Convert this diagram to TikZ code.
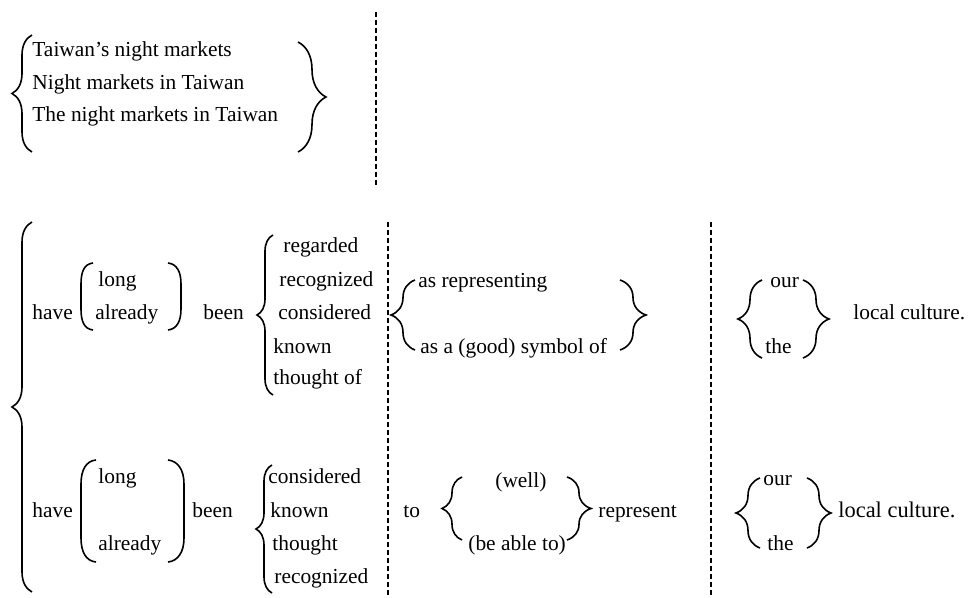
\documentclass[tikz,border=0pt]{standalone}
\usepackage{fontspec}
\setmainfont{Liberation Serif}
\usepackage{tikz}
\usetikzlibrary{decorations.pathreplacing}
\tikzset{
	word/.style={inner sep=0pt, anchor=west, text height=0.7em, text depth=0.2em, font=\fontsize{10.7}{13}\selectfont},
	curly/.style={decorate, line width=0.8pt, decoration={brace, amplitude=#1}},
	curly/.default=8pt,
	paren/.style={line width=0.8pt},
	divider/.style={line width=0.8pt, dash pattern=on 2.5pt off 1.5pt}
}
\begin{document}
\begin{tikzpicture}[x=0.5pt, y=-0.5pt]
		\useasboundingbox (0,0) rectangle (968,598);

		% subjects
		\node[word] (s1) at (32,52) {Taiwan's night markets};
		\node[word] (s2) at (32,85) {Night markets in Taiwan};
		\node[word] (s3) at (32,117) {The night markets in Taiwan};
		\draw[curly=10pt] (32,152) -- (32,35);
		\draw[curly=14pt] (298,42) -- (298,152);
		\draw[divider] (376,12) -- (376,187);

		% whole predicate
		\draw[curly=10pt] (32,592) -- (32,222);
		\draw[divider] (388,222) -- (388,598);
		\draw[divider] (711,222) -- (711,598);

		% first row
		\node[word] (have1) at (32,315) {have};
		\draw[paren] (93,263) .. controls (84,264) and (81,272) .. (81,284) -- (81,309) .. controls (81,321) and (84,329) .. (93,330);
		\node[word] (long1) at (98,282) {long};
		\node[word] (already1) at (95,315) {already};
		\draw[paren] (168,263) .. controls (177,264) and (181,272) .. (181,284) -- (181,309) .. controls (181,321) and (177,329) .. (168,330);
		\node[word] (been1) at (203,315) {been};
		\draw[curly=8pt] (273,395) -- (273,235);
		\node[word] (v11) at (283,248) {regarded};
		\node[word] (v12) at (279,282) {recognized};
		\node[word] (v13) at (278,315) {considered};
		\node[word] (v14) at (273,348) {known};
		\node[word] (v15) at (273,380) {thought of};
		\draw[curly=12pt] (415,350) -- (415,280);
		\node[word] (as1) at (418,283) {as representing};
		\node[word] (as2) at (420,348) {as a (good) symbol of};
		\draw[curly=13pt] (620,280) -- (620,350);
		\draw[curly=12pt] (762,358) -- (762,280);
		\node[word] (our1) at (770,283) {our};
		\node[word] (the1) at (765,348) {the};
		\draw[curly=13pt] (803,280) -- (803,358);
		\node[word] (lc1) at (853,315) {local culture.};

		% second row
		\node[word] (have2) at (32,512) {have};
		\draw[paren] (96,460) .. controls (86,461) and (81,470) .. (81,484) -- (81,538) .. controls (81,552) and (86,561) .. (96,562);
		\node[word] (long2) at (98,478) {long};
		\node[word] (already2) at (98,545) {already};
		\draw[paren] (168,460) .. controls (178,461) and (184,470) .. (184,484) -- (184,538) .. controls (184,552) and (178,561) .. (168,562);
		\node[word] (been2) at (192,512) {been};
		\draw[curly=8pt] (272,593) -- (272,465);
		\node[word] (v21) at (268,478) {considered};
		\node[word] (v22) at (270,512) {known};
		\node[word] (v23) at (272,545) {thought};
		\node[word] (v24) at (274,578) {recognized};
		\node[word] (to2) at (403,512) {to};
		\draw[curly=10pt] (462,540) -- (462,477);
		\node[word] (well2) at (495,482) {(well)};
		\node[word] (able2) at (468,545) {(be able to)};
		\draw[curly=12pt] (567,477) -- (567,540);
		\node[word] (rep2) at (598,512) {represent};
		\draw[curly=12pt] (760,548) -- (760,478);
		\node[word] (our2) at (763,480) {our};
		\node[word] (the2) at (767,545) {the};
		\draw[curly=12pt] (807,478) -- (807,548);
		\node[word, font=\fontsize{11.2}{14}\selectfont] (lc2) at (838,512) {local culture.};
	\end{tikzpicture}
\end{document}
